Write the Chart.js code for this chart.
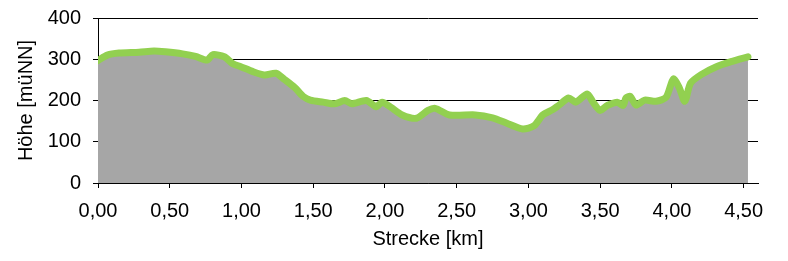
<!DOCTYPE html>
<html>
<head>
<meta charset="utf-8">
<script src="https://cdn.jsdelivr.net/npm/chart.js@4/dist/chart.umd.min.js"></script>
<style>
  html, body { margin: 0; padding: 0; background: #fff; }
  #wrap { width: 788px; height: 261px; position: relative; }
</style>
</head>
<body>
<div id="wrap"><canvas id="c"></canvas></div>
<script>
// Strecke in km und Höhe in m ü. NN
const distanceKm = [0, 0.065, 0.147, 0.286, 0.39, 0.47, 0.59, 0.68, 0.76, 0.80, 0.88, 0.94, 0.995,
  1.08, 1.16, 1.24, 1.30, 1.37, 1.43, 1.48, 1.57, 1.65, 1.72, 1.77, 1.87, 1.94, 1.98, 2.04, 2.12,
  2.22, 2.30, 2.35, 2.45, 2.63, 2.75, 2.85, 2.96, 3.04, 3.10, 3.17, 3.21, 3.28, 3.33, 3.41, 3.45,
  3.50, 3.55, 3.62, 3.66, 3.68, 3.71, 3.75, 3.81, 3.89, 3.96, 4.01, 4.05, 4.09, 4.13, 4.21, 4.31,
  4.42, 4.53];
const elevation = [297, 310, 315, 317, 320, 318, 313, 307, 298, 311, 306, 289, 282,
  270, 262, 266, 251, 232, 210, 201, 196, 192, 200, 192, 200, 185, 196, 184, 165,
  157, 176, 181, 165, 165, 158, 145, 131, 139, 165, 178, 188, 206, 196, 216, 196,
  176, 188, 196, 188, 206, 210, 189, 201, 198, 208, 252, 232, 198, 242, 264, 282,
  295, 306];
const xTicks = [0, 0.5, 1, 1.5, 2, 2.5, 3, 3.5, 4, 4.5];
const yTicks = [0, 100, 200, 300, 400];

const points = distanceKm.map((d, i) => ({ x: d, y: elevation[i] }));
const font = { family: "'Liberation Sans', Arial, sans-serif", size: 20 };

new Chart(document.getElementById('c'), {
  type: 'line',
  data: {
    datasets: [{
      data: points,
      borderColor: '#92d050',
      backgroundColor: '#a6a6a6',
      borderWidth: 7,
      fill: 'origin',
      pointRadius: 0,
      tension: 0.25,
      borderCapStyle: 'round',
      borderJoinStyle: 'round'
    }]
  },
  options: {
    responsive: true,
    maintainAspectRatio: false,
    animation: false,
    layout: { padding: { top: 18, right: 30, left: 0, bottom: 0 } },
    plugins: { legend: { display: false }, tooltip: { enabled: false } },
    scales: {
      x: {
        type: 'linear',
        min: 0,
        max: 4.6,
        afterBuildTicks: s => { s.ticks = xTicks.map(v => ({ value: v })); },
        afterFit: s => { s.height = 78; },
        ticks: {
          color: '#000',
          font,
          padding: 11,
          maxRotation: 0,
          autoSkip: false,
          callback: v => v.toFixed(2).replace('.', ',')
        },
        grid: { drawOnChartArea: false, drawTicks: true, tickLength: 5, color: '#000' },
        border: { color: '#000', width: 1 },
        title: { display: true, text: 'Strecke [km]', color: '#000', font, padding: { top: 4, bottom: 10 } }
      },
      y: {
        min: 0,
        max: 400,
        afterBuildTicks: s => { s.ticks = yTicks.map(v => ({ value: v })); },
        afterFit: s => { s.width = 98; s.paddingTop = 0; s.paddingBottom = 0; },
        ticks: { color: '#000', font, padding: 12 },
        grid: { color: '#000', lineWidth: 1, tickLength: 5 },
        border: { color: '#000', width: 1 },
        title: { display: true, text: 'Höhe [müNN]', color: '#000', font, padding: { top: 14, bottom: 0 } }
      }
    }
  }
});
</script>
</body>
</html>
